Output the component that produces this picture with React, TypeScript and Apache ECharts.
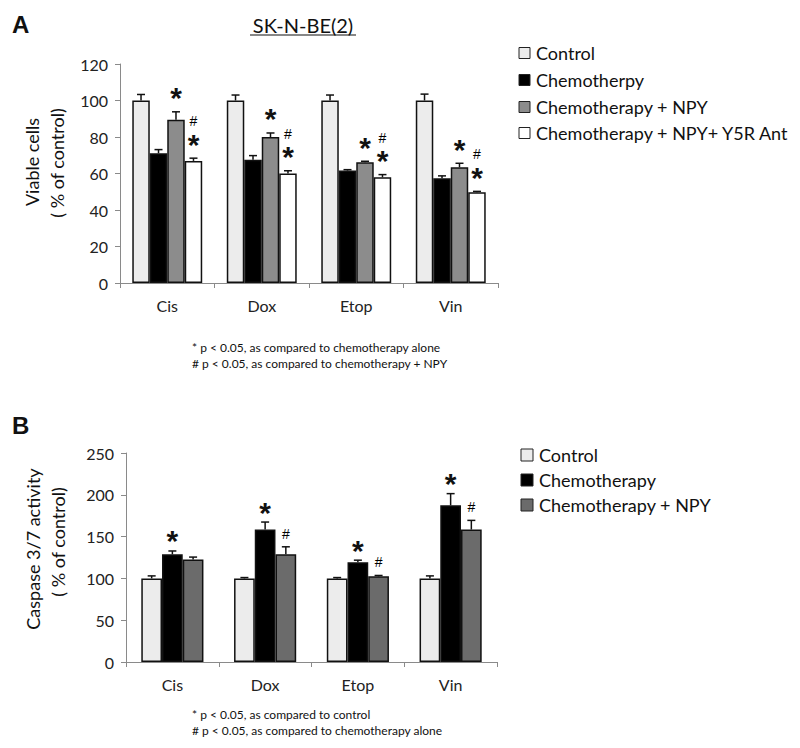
import React, { useEffect, useRef } from "react";
import * as echarts from "echarts";

// ---------- data ----------
const categories = ["Cis", "Dox", "Etop", "Vin"];

// Panel A: viable cells (% of control)
const namesA = ["Control", "Chemotherpy", "Chemotherapy + NPY", "Chemotherapy + NPY+ Y5R Ant"];
const controlA = [100, 100, 100, 100];
const controlErrA = [3.3, 3, 3, 3.5];
const chemoA = [71.1, 67.6, 61.6, 57.4];
const chemoErrA = [2, 2.2, 0.5, 1.3];
const npyA = [89.5, 80, 66.2, 63.4];
const npyErrA = [4.3, 2.2, 0.5, 2.2];
const y5rA = [66.9, 60, 57.9, 49.7];
const y5rErrA = [1.5, 1.5, 1.5, 0.5];
const marksA = [
  ["", "", "", ""],
  ["", "", "", ""],
  ["*", "*", "*", "*"],
  ["#*", "#*", "#*", "#*"],
];

// Panel B: caspase 3/7 activity (% of control)
const namesB = ["Control", "Chemotherapy", "Chemotherapy + NPY"];
const controlB = [100, 100, 100, 100];
const controlErrB = [3, 1, 1, 3];
const chemoB = [128.8, 158.4, 119.3, 187.4];
const chemoErrB = [4, 9, 2.5, 14];
const npyB = [122.5, 128.8, 102.5, 158.4];
const npyErrB = [3, 9, 1, 11];
const marksB = [
  ["", "", "", ""],
  ["*", "*", "*", "*"],
  ["", "#", "#", "#"],
];

const footA = ["* p < 0.05, as compared to chemotherapy alone", "# p < 0.05, as compared to chemotherapy + NPY"];
const footB = ["* p < 0.05, as compared to control", "# p < 0.05, as compared to chemotherapy alone"];

const colorsA = ["#ececec", "#000000", "#8c8c8c", "#ffffff"];
const colorsB = ["#ececec", "#000000", "#6b6b6b"];

const FONT = "Lato";

function barSeries(name: string, data: number[], color: string, axis: number, gap: string) {
  return {
    type: "bar",
    name,
    data,
    xAxisIndex: axis,
    yAxisIndex: axis,
    barGap: "0%",
    barCategoryGap: gap,
    itemStyle: { color, borderColor: "#111", borderWidth: 1.5 },
    silent: true,
  };
}

function errSeries(
  axis: number,
  idx: number,
  n: number,
  frac: number,
  values: number[],
  errs: number[],
  marks: string[],
  starGap: number
) {
  return {
    type: "custom",
    xAxisIndex: axis,
    yAxisIndex: axis,
    z: 10,
    silent: true,
    encode: { x: 0, y: 1 },
    data: values.map((v, i) => [i, v, errs[i]]),
    renderItem: (params: any, api: any) => {
      const ci = api.value(0);
      const v = api.value(1);
      const e = api.value(2);
      const mark = marks[params.dataIndex] || "";
      const bw = api.size([1, 0])[0];
      const p = api.coord([ci, v]);
      const cx = p[0] + (-frac / 2 + ((idx + 0.5) * frac) / n) * bw;
      const top = api.coord([ci, v + e])[1];
      const children: any[] = [
        { type: "line", shape: { x1: cx, y1: p[1], x2: cx, y2: top }, style: { stroke: "#111", lineWidth: 1.5 } },
        { type: "line", shape: { x1: cx - 4, y1: top, x2: cx + 4, y2: top }, style: { stroke: "#111", lineWidth: 1.5 } },
      ];
      let y = top;
      if (mark.includes("*")) {
        const c = y - starGap;
        children.push({
          type: "text",
          x: cx,
          y: c + 7,
          style: { text: "*", fontFamily: "Liberation Sans", fontSize: 30, fontWeight: "bold", fill: "#111", align: "center", verticalAlign: "middle" },
        });
        y = c - 16;
      } else {
        y = y - 13;
      }
      if (mark.includes("#")) {
        children.push({
          type: "text",
          x: cx,
          y,
          style: { text: "#", fontFamily: "Liberation Sans", fontSize: 14, fill: "#000", align: "center", verticalAlign: "middle" },
        });
      }
      return { type: "group", children };
    },
  };
}

function legend(names: string[], colors: string[], x: number, ys: number[], size: number, fontSize: number) {
  const out: any[] = [];
  names.forEach((nm, i) => {
    out.push({
      type: "rect",
      shape: { x, y: ys[i] - size / 2, width: size, height: size },
      style: { fill: colors[i], stroke: "#222", lineWidth: 1 },
    });
    out.push({
      type: "text",
      x: x + size + 6,
      y: ys[i],
      style: { text: nm, fontFamily: FONT, fontSize, fill: "#111", align: "left", verticalAlign: "middle" },
    });
  });
  return out;
}

function rotText(text: string, x: number, y: number, fontSize: number) {
  return {
    type: "text",
    x,
    y,
    rotation: Math.PI / 2,
    style: { text, fontFamily: FONT, fontSize, fill: "#111", align: "center", verticalAlign: "middle" },
  };
}

function plainText(text: string, x: number, y: number, fontSize: number, extra: any = {}) {
  return {
    type: "text",
    x,
    y,
    style: { text, fontFamily: FONT, fontSize, fill: "#111", align: "left", verticalAlign: "middle", ...extra },
  };
}

export default function App() {
  const ref = useRef<HTMLDivElement>(null);
  useEffect(() => {
    if (!ref.current) return;
    const chart = echarts.init(ref.current, undefined, { renderer: "svg" });
    const axisLine = { show: true, lineStyle: { color: "#8a8a8a", width: 1 } };
    const axisTick = { show: true, length: 5, lineStyle: { color: "#8a8a8a" } };
    const axisLabel = { fontFamily: FONT, fontSize: 16, color: "#222" };
    const fracA = 0.74;
    const fracB = 0.67;
    const valsA = [controlA, chemoA, npyA, y5rA];
    const errsA = [controlErrA, chemoErrA, npyErrA, y5rErrA];
    const valsB = [controlB, chemoB, npyB];
    const errsB = [controlErrB, chemoErrB, npyErrB];

    const series: any[] = [];
    valsA.forEach((v, i) => series.push(barSeries(namesA[i], v, colorsA[i], 0, "26%")));
    valsB.forEach((v, i) => series.push(barSeries(namesB[i], v, colorsB[i], 1, "33%")));
    valsA.forEach((v, i) => series.push(errSeries(0, i, 4, fracA, v, errsA[i], marksA[i], 21)));
    valsB.forEach((v, i) => series.push(errSeries(1, i, 3, fracB, v, errsB[i], marksB[i], 17)));

    chart.setOption({
      animation: false,
      backgroundColor: "#ffffff",
      grid: [
        { left: 120, top: 64, width: 378, height: 219 },
        { left: 126, top: 453, width: 371, height: 209 },
      ],
      xAxis: [0, 1].map((g) => ({
        type: "category",
        gridIndex: g,
        data: categories,
        axisLine,
        axisTick: { ...axisTick, interval: 0 },
        axisLabel: { ...axisLabel, margin: 14 },
      })),
      yAxis: [
        { type: "value", gridIndex: 0, min: 0, max: 120, interval: 20, axisLine, axisTick, splitLine: { show: false }, axisLabel: { ...axisLabel, margin: 12 } },
        { type: "value", gridIndex: 1, min: 0, max: 250, interval: 50, axisLine, axisTick, splitLine: { show: false }, axisLabel: { ...axisLabel, margin: 12 } },
      ],
      series,
      graphic: [
        plainText("A", 12, 24, 24, { fontFamily: "Liberation Sans", fontWeight: "bold" }),
        plainText("B", 12, 425, 24, { fontFamily: "Liberation Sans", fontWeight: "bold" }),
        plainText("SK-N-BE(2)", 303, 25, 20, { align: "center" }),
        { type: "line", shape: { x1: 250, y1: 35, x2: 356, y2: 35 }, style: { stroke: "#111", lineWidth: 1.2 } },
        rotText("Viable cells", 32, 162, 18),
        rotText("( % of control)", 57, 163, 18),
        rotText("Caspase 3/7 activity", 33, 549, 18),
        rotText("( % of control)", 58, 542, 18),
        plainText(footA[0], 192, 347, 12),
        plainText(footA[1], 192, 363, 12),
        plainText(footB[0], 192, 714, 12),
        plainText(footB[1], 192, 730, 12),
        ...legend(namesA, colorsA, 519, [53, 80, 107, 133], 11, 18),
        ...legend(namesB, colorsB, 521, [455, 480, 505], 12, 18),
      ],
    });
    return () => chart.dispose();
  }, []);
  return <div ref={ref} style={{ position: "fixed", left: 0, top: 0, width: 800, height: 748, background: "#fff" }} />;
}
